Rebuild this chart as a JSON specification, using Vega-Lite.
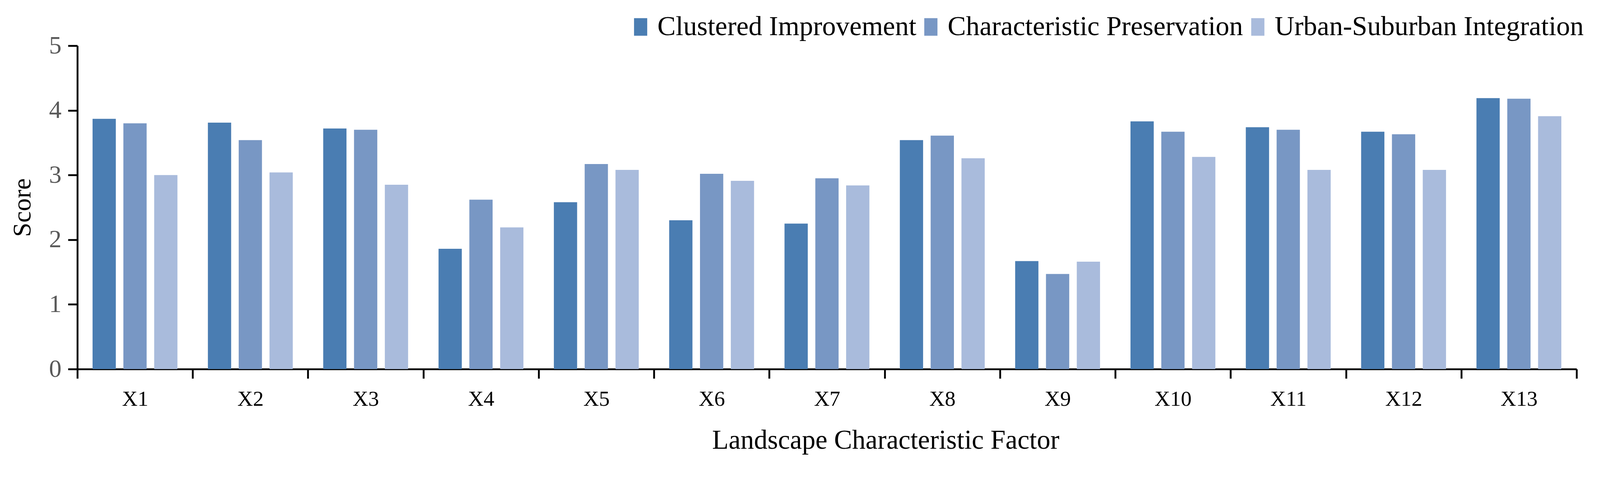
{
  "$schema": "https://vega.github.io/schema/vega-lite/v6.json",
  "width": 3838,
  "height": 828,
  "autosize": {"type": "none"},
  "padding": {"left": 198, "top": 117, "right": 63, "bottom": 255},
  "background": "white",
  "data": {
    "values": [
      {"factor": "X1", "scheme": "Clustered Improvement", "score": 3.87},
      {"factor": "X1", "scheme": "Characteristic Preservation", "score": 3.80},
      {"factor": "X1", "scheme": "Urban-Suburban Integration", "score": 3.00},
      {"factor": "X2", "scheme": "Clustered Improvement", "score": 3.81},
      {"factor": "X2", "scheme": "Characteristic Preservation", "score": 3.54},
      {"factor": "X2", "scheme": "Urban-Suburban Integration", "score": 3.04},
      {"factor": "X3", "scheme": "Clustered Improvement", "score": 3.72},
      {"factor": "X3", "scheme": "Characteristic Preservation", "score": 3.70},
      {"factor": "X3", "scheme": "Urban-Suburban Integration", "score": 2.85},
      {"factor": "X4", "scheme": "Clustered Improvement", "score": 1.86},
      {"factor": "X4", "scheme": "Characteristic Preservation", "score": 2.62},
      {"factor": "X4", "scheme": "Urban-Suburban Integration", "score": 2.19},
      {"factor": "X5", "scheme": "Clustered Improvement", "score": 2.58},
      {"factor": "X5", "scheme": "Characteristic Preservation", "score": 3.17},
      {"factor": "X5", "scheme": "Urban-Suburban Integration", "score": 3.08},
      {"factor": "X6", "scheme": "Clustered Improvement", "score": 2.30},
      {"factor": "X6", "scheme": "Characteristic Preservation", "score": 3.02},
      {"factor": "X6", "scheme": "Urban-Suburban Integration", "score": 2.91},
      {"factor": "X7", "scheme": "Clustered Improvement", "score": 2.25},
      {"factor": "X7", "scheme": "Characteristic Preservation", "score": 2.95},
      {"factor": "X7", "scheme": "Urban-Suburban Integration", "score": 2.84},
      {"factor": "X8", "scheme": "Clustered Improvement", "score": 3.54},
      {"factor": "X8", "scheme": "Characteristic Preservation", "score": 3.61},
      {"factor": "X8", "scheme": "Urban-Suburban Integration", "score": 3.26},
      {"factor": "X9", "scheme": "Clustered Improvement", "score": 1.67},
      {"factor": "X9", "scheme": "Characteristic Preservation", "score": 1.47},
      {"factor": "X9", "scheme": "Urban-Suburban Integration", "score": 1.66},
      {"factor": "X10", "scheme": "Clustered Improvement", "score": 3.83},
      {"factor": "X10", "scheme": "Characteristic Preservation", "score": 3.67},
      {"factor": "X10", "scheme": "Urban-Suburban Integration", "score": 3.28},
      {"factor": "X11", "scheme": "Clustered Improvement", "score": 3.74},
      {"factor": "X11", "scheme": "Characteristic Preservation", "score": 3.70},
      {"factor": "X11", "scheme": "Urban-Suburban Integration", "score": 3.08},
      {"factor": "X12", "scheme": "Clustered Improvement", "score": 3.67},
      {"factor": "X12", "scheme": "Characteristic Preservation", "score": 3.63},
      {"factor": "X12", "scheme": "Urban-Suburban Integration", "score": 3.08},
      {"factor": "X13", "scheme": "Clustered Improvement", "score": 4.19},
      {"factor": "X13", "scheme": "Characteristic Preservation", "score": 4.18},
      {"factor": "X13", "scheme": "Urban-Suburban Integration", "score": 3.91}
    ]
  },
  "mark": {"type": "bar"},
  "encoding": {
    "x": {
      "field": "factor",
      "type": "nominal",
      "sort": ["X1","X2","X3","X4","X5","X6","X7","X8","X9","X10","X11","X12","X13"],
      "scale": {"paddingInner": 0, "paddingOuter": 0},
      "title": "Landscape Characteristic Factor",
      "axis": {
        "labelAngle": 0,
        "labelFont": "Liberation Serif",
        "labelFontSize": 55,
        "labelColor": "#000000",
        "labelPadding": 26,
        "tickBand": "extent",
        "tickSize": 24,
        "tickWidth": 4.7,
        "tickColor": "#000000",
        "domainColor": "#000000",
        "domainWidth": 4.7,
        "titleFont": "Liberation Serif",
        "titleFontSize": 69,
        "titleFontWeight": "normal",
        "titleColor": "#000000",
        "titlePadding": 44,
        "titleX": 2069,
        "titleAlign": "center"
      }
    },
    "xOffset": {
      "field": "scheme",
      "type": "nominal",
      "sort": ["Clustered Improvement", "Characteristic Preservation", "Urban-Suburban Integration"],
      "scale": {"paddingInner": 0.245, "paddingOuter": 0.494}
    },
    "y": {
      "field": "score",
      "type": "quantitative",
      "scale": {"domain": [0, 5], "nice": false},
      "title": "Score",
      "axis": {
        "values": [0, 1, 2, 3, 4, 5],
        "grid": false,
        "labelFont": "Liberation Serif",
        "labelFontSize": 64,
        "labelColor": "#595959",
        "labelPadding": 17,
        "tickSize": 24,
        "tickWidth": 4.7,
        "tickColor": "#000000",
        "domainColor": "#000000",
        "domainWidth": 4.7,
        "titleFont": "Liberation Serif",
        "titleFontSize": 66,
        "titleFontWeight": "normal",
        "titleColor": "#000000",
        "titlePadding": 34
      }
    },
    "color": {
      "field": "scheme",
      "type": "nominal",
      "sort": ["Clustered Improvement", "Characteristic Preservation", "Urban-Suburban Integration"],
      "scale": {
        "domain": ["Clustered Improvement", "Characteristic Preservation", "Urban-Suburban Integration"],
        "range": ["#4a7db2", "#7897c4", "#a9bbdc"]
      },
      "legend": {
        "orient": "none",
        "legendX": 1407,
        "legendY": -83,
        "direction": "horizontal",
        "title": null,
        "symbolType": "M-0.75,-1H0.75V1H-0.75Z",
        "symbolSize": 2025,
        "symbolStrokeWidth": 0,
        "symbolOpacity": 1,
        "labelFont": "Liberation Serif",
        "labelFontSize": 70,
        "labelColor": "#000000",
        "labelOffset": 8,
        "labelLimit": 2000,
        "columnPadding": 2,
        "padding": 0
      }
    }
  },
  "config": {
    "view": {"stroke": null},
    "font": "Liberation Serif"
  }
}
